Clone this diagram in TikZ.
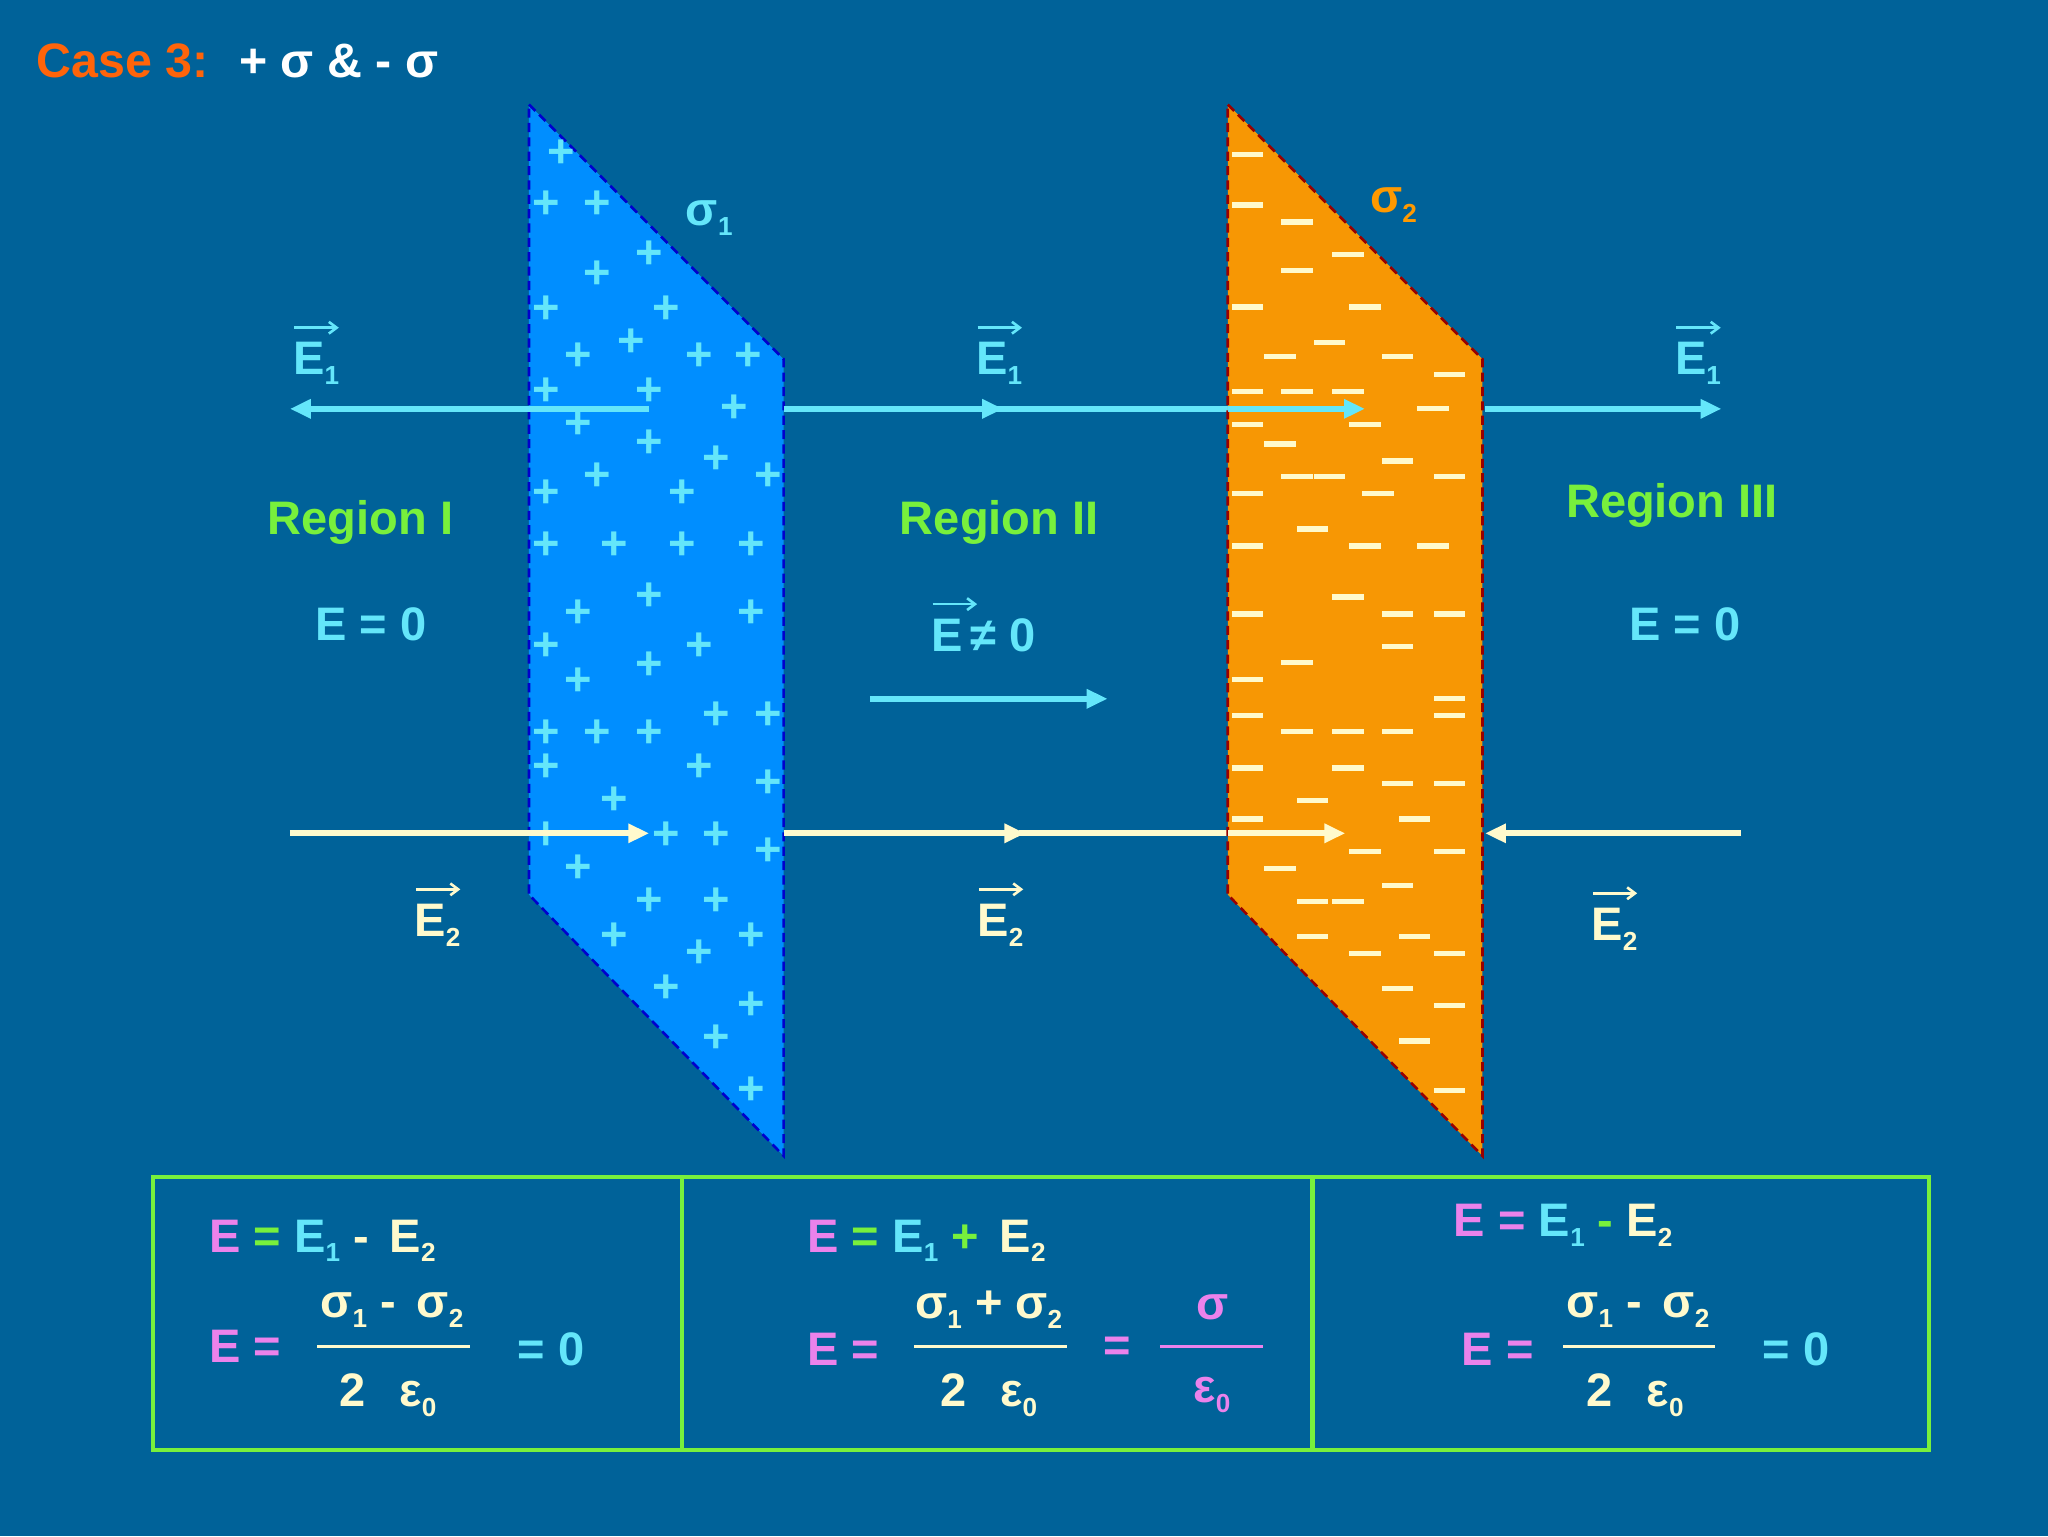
\documentclass[tikz,border=0pt]{standalone}
\usepackage{fontspec}
\setmainfont{Liberation Sans}
\usetikzlibrary{arrows.meta}
\definecolor{bg}{RGB}{0,98,153}
\definecolor{cy}{RGB}{100,230,250}
\definecolor{cr}{RGB}{255,250,205}
\definecolor{gr}{RGB}{120,240,60}
\definecolor{pk}{RGB}{235,130,235}
\definecolor{bl}{RGB}{0,142,255}
\definecolor{og}{RGB}{255,153,0}
\definecolor{tor}{RGB}{255,100,10}
\newcommand\sbs[1]{\raisebox{-0.4ex}{\fontsize{20}{20}\selectfont #1}}
\newcommand\vE{\makebox[0pt][l]{\raisebox{0.85em}{\tikz\draw[-{Straight Barb[length=6pt,width=9pt]},line width=2pt](0,0)--(34pt,0);}}E}
\tikzset{t/.style={font=\bfseries\fontsize{36}{40}\selectfont,inner sep=0pt},
 e1/.style={line width=4.5pt,cy,-{Triangle[length=16pt,width=14pt]}},
 e2/.style={line width=4.5pt,cr,-{Triangle[length=16pt,width=14pt]}},
 pm/.style={font=\bfseries\fontsize{36}{36}\selectfont,inner sep=0pt}}
\begin{document}
\begin{tikzpicture}[x=1pt,y=-1pt]
\fill[bg] (0,0) rectangle (1568,1176);
\node[t,anchor=west,tor,font=\bfseries\fontsize{37}{40}\selectfont] (c3) at (28,47) {Case 3:};
\node[t,anchor=west,white,font=\bfseries\fontsize{37}{40}\selectfont] (c3b) at (183,47) {+ σ \& - σ};
% blue plate
\fill[bl] (405,80) -- (600,275) -- (600,885) -- (405,685) -- cycle;
\draw[blue!80!black,dash pattern=on 7pt off 4pt,line width=2pt] (405,80) -- (600,275) -- (600,885) -- (405,685) -- cycle;
\foreach \x/\y in {430/118,418/157,457/157,497/195,457/210,418/237,510/237,483/262,443/273,535/273,573/273,418/300,497/300,443/325,562/313,497/340,548/352,418/378,457/365,522/378,588/365,418/418,470/418,522/418,575/418,443/470,497/457,575/470,418/495,535/495,443/522,497/510,548/548,588/548,418/562,457/562,497/562,535/588,418/588,588/600,470/613,510/640,548/640,588/652,443/665,497/690,548/690,470/717,535/730,575/717,510/757,575/770,548/795,575/835,418/640}
 \node[pm,cy] at (\x,\y) {+};
% E1 arrows
\draw[e1] (497,313) -- (222,313);
\draw[e1] (600,313) -- (768,313);
\draw[e1] (760,313) -- (1045,313);
% E2 lines
\draw[e2] (222,638) -- (497,638);
\draw[e2] (600,638) -- (785,638);
\draw[e2] (780,638) -- (1030,638);
% orange plate
\fill[og,opacity=0.97] (940,80) -- (1135,275) -- (1135,885) -- (940,685) -- cycle;
\draw[red!60!black,dash pattern=on 7pt off 4pt,line width=2pt] (940,80) -- (1135,275) -- (1135,885) -- (940,685) -- cycle;
\foreach \x/\y in {955/118,955/157,993/170,993/207,1032/195,955/235,1045/235,980/273,1018/262,1070/273,1110/287,955/300,993/300,1032/300,1097/313,955/325,1045/325,980/340,1070/353,1018/365,955/378,993/365,1055/378,1110/365,955/418,1005/405,1045/418,1097/418,955/470,1032/457,1070/470,1110/470,955/520,993/507,1070/495,1110/548,955/548,993/560,1032/560,1070/560,1110/535,955/588,1032/588,1070/600,1110/600,1005/613,955/627,1083/627,1045/652,1110/652,980/665,1005/690,1070/678,1032/690,1005/717,1045/730,1083/717,1110/730,1070/757,1110/770,1083/797,1110/835}
 \fill[cr] (\x-12,\y-2) rectangle (\x+12,\y+2);
% overlay lines visible through orange
\draw[line width=4.5pt,cy] (940,313) -- (1030,313);
\draw[e1] (1000,313) -- (1045,313);
\draw[line width=4.5pt,cr] (940,638) -- (1020,638);
\draw[e2] (1000,638) -- (1030,638);
% region III arrows
\draw[e1] (1137,313) -- (1318,313);
\draw[e2] (1333,638) -- (1137,638);
% labels
\node[t,cy] (s1) at (543,167) {σ\sbs{1}};
\node[t,og] (s2) at (1067,157) {σ\sbs{2}};
\node[t,cy] (a1) at (242,270) {\vE\sbs{1}};
\node[t,cy] (a2) at (765,270) {\vE\sbs{1}};
\node[t,cy] (a3) at (1300,270) {\vE\sbs{1}};
\node[t,cr] (b1) at (335,700) {\vE\sbs{2}};
\node[t,cr] (b2) at (766,700) {\vE\sbs{2}};
\node[t,cr] (b3) at (1236,703) {\vE\sbs{2}};
\node[t,gr] (r1) at (276,400) {Region I};
\node[t,gr] (r2) at (765,400) {Region II};
\node[t,gr] (r3) at (1280,387) {Region III};
\node[t,cy] (z1) at (284,478) {E = 0};
\node[t,cy] (z3) at (1290,478) {E = 0};
\node[t,cy] (z2) at (753,478) {\vE\,≠ 0};
\coordinate (m1) at (666,535); \coordinate (m2) at (848,535);
\draw[e1] (m1) -- (m2);
% bottom box
\draw[gr,line width=3.5pt] (117,901) rectangle (1477,1110);
\draw[gr,line width=3.5pt] (522,901) -- (522,1110);
\draw[gr,line width=3.5pt] (1005,901) -- (1005,1110);
% box 1
\node[t,anchor=west] (f1) at (160,950) {\textcolor{pk}{E} \textcolor{gr}{=} \textcolor{cy}{E\sbs{1}} \textcolor{cr}{-\, E\sbs{2}}};
\node[t,pk,anchor=west] (f1e) at (160,1031) {E =};
\node[t,cr] (f1n) at (300,1003) {σ\sbs{1} -\, σ\sbs{2}};
\draw[cr,line width=2pt] (243,1031) -- (360,1031);
\node[t,cr] (f1d) at (297,1068) {2\,\ \ ε\sbs{0}};
\node[t,cy] (f1z) at (422,1033) {= 0};
% box 2
\node[t,anchor=west] (f2) at (618,950) {\textcolor{pk}{E} \textcolor{gr}{=} \textcolor{cy}{E\sbs{1}} \textcolor{gr}{+}\, \textcolor{cr}{E\sbs{2}}};
\node[t,pk,anchor=west] (f2e) at (618,1033) {E =};
\node[t,cr] (f2n) at (757,1003) {σ\sbs{1} + σ\sbs{2}};
\draw[cr,line width=2pt] (700,1031) -- (817,1031);
\node[t,cr] (f2d) at (757,1068) {2\,\ \ ε\sbs{0}};
\node[t,pk] (f2q) at (855,1033) {=};
\node[t,pk] (f2s) at (928,1001) {σ};
\draw[pk,line width=2pt] (888,1031) -- (967,1031);
\node[t,pk] (f2t) at (928,1068) {ε\sbs{0}};
% box 3
\node[t,anchor=west] (f3) at (1113,938) {\textcolor{pk}{E =} \textcolor{cy}{E\sbs{1}} \textcolor{gr}{-} \textcolor{cr}{E\sbs{2}}};
\node[t,pk,anchor=west] (f3e) at (1119,1033) {E =};
\node[t,cr] (f3n) at (1254,1003) {σ\sbs{1} -\, σ\sbs{2}};
\draw[cr,line width=2pt] (1197,1031) -- (1313,1031);
\node[t,cr] (f3d) at (1252,1068) {2\,\ \ ε\sbs{0}};
\node[t,cy] (f3z) at (1375,1033) {= 0};
\end{tikzpicture}
\end{document}
